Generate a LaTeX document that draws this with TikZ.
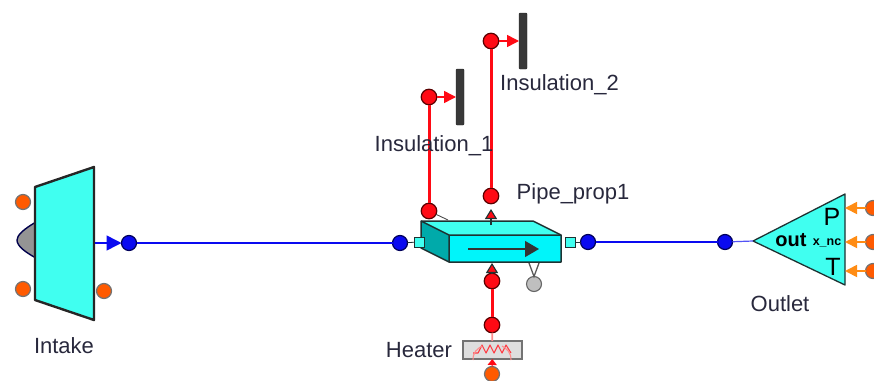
\documentclass[tikz,border=0pt]{standalone}
\usepackage{fontspec}
\setmainfont{Liberation Sans}
\usetikzlibrary{arrows.meta}
\definecolor{compcyan}{RGB}{64,255,240}
\definecolor{pipecyan}{RGB}{0,245,250}
\definecolor{pipeside}{RGB}{0,170,170}
\definecolor{darkline}{RGB}{30,50,50}
\definecolor{labelgrey}{RGB}{40,40,60}
\definecolor{dotorange}{RGB}{255,90,0}
\definecolor{tiporange}{RGB}{255,140,20}
\definecolor{wirered}{RGB}{255,10,20}
\definecolor{wireblue}{RGB}{10,10,240}
\tikzset{
  dot/.style={circle, draw=#1!35!black, line width=1.2pt, inner sep=0pt, minimum size=14pt, outer sep=0pt},
  bluedot/.style={dot=blue, fill=wireblue, minimum size=15pt},
  reddot/.style={dot=red, fill=wirered, minimum size=15.5pt},
  orangedot/.style={dot=orange, fill=dotorange, draw=black!55, minimum size=15pt},
  greydot/.style={circle, draw=black!60, line width=1.1pt, fill=black!25, inner sep=0pt, minimum size=15pt, outer sep=0pt},
  port/.style={rectangle, draw=darkline, line width=0.9pt, fill=compcyan, inner sep=0pt, minimum size=10pt, outer sep=0pt},
  wall/.style={rectangle, rounded corners=1pt, fill=black!78, draw=black!85, inner sep=0pt, minimum width=8pt, minimum height=56pt, outer sep=0pt},
  label/.style={text=labelgrey, font=\fontsize{22}{24}\selectfont, inner sep=0pt},
  bluewire/.style={wireblue, line width=2.6pt},
  redwire/.style={wirered, line width=3pt},
  redarrow/.style={wirered, line width=1.5pt, -{Triangle[length=12pt,width=12pt]}},
  orangearrow/.style={tiporange, line width=1.8pt, -{Triangle[length=12pt,width=12pt]}},
  porttip/.style={darkline, line width=1.1pt, -{Triangle[length=10pt,width=12pt,fill=wirered]}}
}
\begin{document}
\begin{tikzpicture}[x=1pt, y=-1pt]
\useasboundingbox (0,0) rectangle (874,380);

%------------------ INTAKE ------------------%
\draw[draw=blue!30!black, line width=1.4pt, fill=black!42] (36,222) .. controls (24,229) and (17,235) .. (17,240) .. controls (17,246) and (25,252) .. (36,258) -- cycle;
\draw[draw=black!85, line width=2.4pt, line join=round, fill=compcyan] (35,187) -- (94,167) -- (94,320) -- (35,300) -- cycle;
\node[orangedot] (intakeA) at (23,202) {};
\node[orangedot] (intakeB) at (23,289) {};
\node[orangedot] (intakeC) at (104,291) {};
\coordinate (intakeOut) at (95,243);
\node[bluedot] (dotA) at (129,243) {};
\draw[wireblue, line width=1.5pt, -{Triangle[length=15pt,width=15pt]}] (intakeOut) -- (dotA);

%------------------ PIPE ------------------%
\fill[compcyan] (421,221) -- (533,221) -- (561,235) -- (449,235) -- cycle;
\fill[pipecyan] (449,235) rectangle (561,262);
\fill[pipeside] (421,221) -- (449,235) -- (449,262) -- (421,248) -- cycle;
\draw[darkline, line width=1.5pt, line join=round] (421,221) -- (533,221) -- (561,235) -- (561,262) -- (449,262) -- (421,248) -- cycle;
\draw[darkline, line width=1.5pt, line join=round] (421,221) -- (449,235) -- (561,235) (449,235) -- (449,262);
\node[port] (pipeIn) at (419,242) {};
\node[port] (pipeOut) at (570,242) {};
\coordinate (arrowStart) at (468,249);
\coordinate (arrowEnd) at (539,249);
\draw[black!80, line width=1.3pt, -{Triangle[length=14pt,width=16pt]}] (arrowStart) -- (arrowEnd);
\node[bluedot] (dotB) at (400,243) {};
\node[bluedot] (dotC) at (588,242) {};
\node[bluedot] (dotD) at (725,242) {};
\draw[bluewire] (dotA) -- (dotB);
\draw[bluewire] (dotC) -- (dotD);
\draw[darkline, line width=0.8pt] (dotB) -- (pipeIn);
\draw[darkline, line width=0.8pt] (dotC) -- (pipeOut);

% sensor below the pipe
\node[greydot] (sensor) at (534,284) {};
\coordinate (sensorL) at (529,263);
\coordinate (sensorR) at (539,263);
\draw[black!65, line width=1.3pt] (sensorL) -- (sensor.north) -- (sensorR);

%------------------ INSULATION ------------------%
\node[wall] (wallA) at (460,97) {};
\node[wall] (wallB) at (523,41) {};
\node[reddot] (insA) at (429,97) {};
\node[reddot] (insB) at (491,41) {};
\node[reddot] (pipeA) at (429,211) {};
\node[reddot] (pipeB) at (491,196) {};
\draw[redarrow] (insA) -- (wallA);
\draw[redarrow] (insB) -- (wallB);
\draw[redwire] (insA) -- (pipeA);
\draw[redwire] (insB) -- (pipeB);
\coordinate (pipeAEnd) at (448,220);
\draw[black!70, line width=0.9pt] (pipeA) -- (pipeAEnd);
\coordinate (portTop) at (491,225);
\coordinate (tipTop) at (491,209);
\draw[porttip] (portTop) -- (tipTop);

%------------------ HEATER ------------------%
\node[reddot] (heatA) at (492,281) {};
\node[reddot] (heatB) at (492,325) {};
\node[rectangle, draw=black!55, line width=1.2pt, fill=black!13, minimum width=59pt, minimum height=18pt, inner sep=0pt, outer sep=0pt] (heater) at (492.5,350) {};
\node[orangedot] (heatC) at (492,374) {};
\coordinate (tipBottom) at (492,263);
\draw[porttip] (heatA) -- (tipBottom);
\draw[redwire] (heatA) -- (heatB);
\draw[red!45, line width=1.8pt] (heatB) -- (heater);
\draw[wirered!80, line width=1.1pt, line join=round] (473,353) -- (478,353) -- (482,345) -- (486,353) -- (490,345) -- (494,353) -- (498,345) -- (502,353) -- (506,345) -- (511,353);
\draw[red!45, line width=1.1pt] (473,360) .. controls (473,352) and (477,349) .. (482,346);
\draw[red!45, line width=1.1pt] (511,360) .. controls (511,352) and (507,349) .. (502,346);
\draw[wirered, line width=1.1pt, -{Triangle[length=6pt,width=9pt]}] (heatC) -- (heater);

%------------------ OUTLET ------------------%
\draw[darkline, line width=1.3pt, line join=round, fill=compcyan] (753,241) -- (845,194) -- (845,285) -- cycle;
\coordinate (outletTip) at (753,241);
\draw[wireblue!70, line width=1.2pt] (dotD) -- (outletTip);
\node[orangedot] (outA) at (873,208) {};
\node[orangedot] (outB) at (873,242) {};
\node[orangedot] (outC) at (873,271) {};
\coordinate (outAEnd) at (845,208);
\coordinate (outBEnd) at (845,242);
\coordinate (outCEnd) at (845,271);
\draw[orangearrow] (outA) -- (outAEnd);
\draw[orangearrow] (outB) -- (outBEnd);
\draw[orangearrow] (outC) -- (outCEnd);
\node[inner sep=0pt, font=\fontsize{25}{26}\selectfont] (portP) at (832,217) {P};
\node[inner sep=0pt, font=\fontsize{25}{26}\selectfont] (portT) at (833,267) {T};
\node[inner sep=0pt, font=\bfseries\fontsize{20}{22}\selectfont] (portOut) at (791,240) {out};
\node[inner sep=0pt, font=\bfseries\fontsize{12.5}{14}\selectfont] (portNc) at (827,243) {x\_nc};

%------------------ LABELS ------------------%
\node[label] (intakeLabel) at (64,346) {Intake};
\node[label] (insLabelA) at (434,146) {Insulation\_1};
\node[label] (insLabelB) at (559.5,85) {Insulation\_2};
\node[label] (pipeLabel) at (573,194) {Pipe\_prop1};
\node[label] (outletLabel) at (780,304) {Outlet};
\node[label] (heaterLabel) at (419,350) {Heater};

\end{tikzpicture}
\end{document}
